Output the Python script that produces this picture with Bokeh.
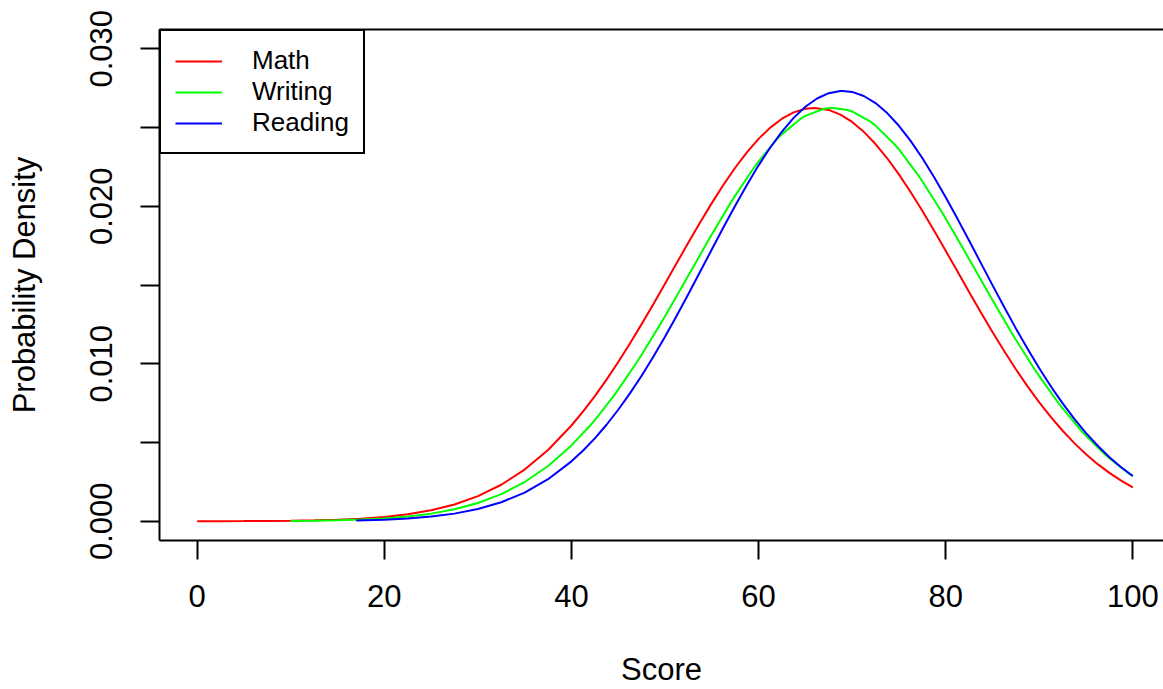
from bokeh.plotting import figure
from bokeh.models import (Range1d, FixedTicker, LinearAxis, Legend, LegendItem)
from bokeh.embed import file_html
from bokeh.resources import INLINE

# ---- data ----
x_math = [0, 2.5, 5, 7.5, 10, 12.5, 15, 17.5, 20, 22.5, 25, 27.5, 30, 32.5, 35, 37.5,
          40, 41.25, 42.5, 43.75, 45, 46.25, 47.5, 48.75, 50, 51.25, 52.5, 53.75, 55,
          56.25, 57.5, 58.75, 60, 61.25, 62.5, 63.75, 65, 66, 67.5, 68.75, 70, 71.25,
          72.5, 73.75, 75, 76.25, 77.5, 78.75, 80, 81.25, 82.5, 83.75, 85, 86.25, 87.5,
          88.75, 90, 91.25, 92.5, 93.75, 95, 96.25, 97.5, 98.75, 100]
y_math = [0.000002, 0.000004, 0.000008, 0.000016, 0.000030, 0.000054, 0.000094, 0.000161,
          0.000269, 0.000437, 0.000690, 0.001062, 0.001589, 0.002313, 0.003278, 0.004525,
          0.006077, 0.006972, 0.007945, 0.008991, 0.010108, 0.011284, 0.012515, 0.013785,
          0.015084, 0.016391, 0.017693, 0.018969, 0.020200, 0.021366, 0.022447, 0.023425,
          0.024281, 0.024996, 0.025560, 0.025961, 0.026190, 0.026247, 0.026119, 0.025821,
          0.025355, 0.024727, 0.023953, 0.023048, 0.022027, 0.020909, 0.019714, 0.018463,
          0.017173, 0.015867, 0.014562, 0.013273, 0.012016, 0.010806, 0.009651, 0.008563,
          0.007546, 0.006605, 0.005743, 0.004958, 0.004252, 0.003623, 0.003066, 0.002576,
          0.002151]

x_writing = [10, 12.5, 15, 17.5, 20, 22.5, 25, 27.5, 30, 32.5, 35, 37.5, 40, 42, 42.5,
             44.5, 45, 47, 47.5, 49.5, 50, 52, 52.5, 54.5, 55, 57, 57.5, 59.5, 60, 62,
             62.5, 64.5, 65, 67, 67.5, 68, 69.5, 70, 72, 72.5, 74.5, 75, 77, 77.5, 79.5,
             80, 82, 82.5, 84.5, 85, 87, 87.5, 89.5, 90, 92, 92.5, 94.5, 95, 97, 97.5,
             99.5, 100]
y_writing = [0.000018, 0.000033, 0.000060, 0.000105, 0.000179, 0.000297, 0.000480, 0.000754,
             0.001153, 0.001717, 0.002487, 0.003506, 0.004811, 0.006077, 0.006425, 0.007945,
             0.008354, 0.010108, 0.010570, 0.012515, 0.013019, 0.015084, 0.015606, 0.017693,
             0.018208, 0.020200, 0.020675, 0.022447, 0.022853, 0.024281, 0.024583, 0.025560,
             0.025741, 0.026190, 0.026233, 0.026247, 0.026119, 0.026021, 0.025355, 0.025121,
             0.023953, 0.023607, 0.022027, 0.021591, 0.019714, 0.019221, 0.017173, 0.016654,
             0.014562, 0.014042, 0.012016, 0.011528, 0.009651, 0.009210, 0.007546, 0.007160,
             0.005743, 0.005420, 0.004252, 0.003992, 0.003066, 0.002861]

x_reading = [17, 20, 22.5, 25, 27.5, 30, 32.5, 35, 37.5, 40, 41.25, 42.5, 43.75, 45, 46.25,
             47.5, 48.75, 50, 51.25, 52.5, 53.75, 55, 56.25, 57.5, 58.75, 60, 61.25, 62.5,
             63.75, 65, 66.25, 67.5, 68.75, 69, 70, 71.25, 72.5, 73.75, 75, 76.25, 77.5,
             78.75, 80, 81.25, 82.5, 83.75, 85, 86.25, 87.5, 88.75, 90, 91.25, 92.5, 93.75,
             95, 96.25, 97.5, 98.75, 100]
y_reading = [0.000048, 0.000098, 0.000171, 0.000291, 0.000481, 0.000771, 0.001201, 0.001815,
             0.002666, 0.003801, 0.004488, 0.005263, 0.006125, 0.007077, 0.008116, 0.009239,
             0.010443, 0.011717, 0.013050, 0.014428, 0.015836, 0.017253, 0.018662, 0.020038,
             0.021357, 0.022598, 0.023734, 0.024745, 0.025614, 0.026320, 0.026845, 0.027181,
             0.027321, 0.027325, 0.027262, 0.027002, 0.026552, 0.025916, 0.025112, 0.024155,
             0.023065, 0.021864, 0.020573, 0.019217, 0.017822, 0.016403, 0.014991, 0.013597,
             0.012245, 0.010945, 0.009711, 0.008555, 0.007482, 0.006494, 0.005596, 0.004788,
             0.004066, 0.003427, 0.002869]

series_names = ["Math", "Writing", "Reading"]
series_colors = ["#FF0000", "#00FF00", "#0000FF"]

x_ticks = [0, 20, 40, 60, 80, 100]
y_ticks = [0.000, 0.005, 0.010, 0.015, 0.020, 0.025, 0.030]
y_tick_labels = ["0.000", "", "0.010", "", "0.020", "", "0.030"]
x_title = "Score"
y_title = "Probability Density"

FONT = "Liberation Sans"

p = figure(width=1163, height=689, output_backend="svg", toolbar_location=None,
           x_range=Range1d(-4.03, 103.28), y_range=Range1d(-0.001226, 0.031226),
           min_border_left=159, min_border_right=0, min_border_top=29,
           min_border_bottom=149)
p.outline_line_color = None
p.grid.visible = False
p.background_fill_color = "white"
p.border_fill_color = "white"

# axes
xa = p.xaxis[0]
xa.ticker = FixedTicker(ticks=x_ticks)
ya = p.yaxis[0]
ya.ticker = FixedTicker(ticks=y_ticks)
ya.major_label_overrides = {t: l for t, l in zip(y_ticks, y_tick_labels)}
ya.major_label_orientation = "parallel"
for ax in (xa, ya):
    ax.axis_line_width = 2
    ax.axis_line_color = "black"
    ax.major_tick_line_width = 2
    ax.major_tick_line_color = "black"
    ax.major_tick_in = 0
    ax.major_tick_out = 19
    ax.minor_tick_line_color = None
    ax.major_label_text_font = FONT
    ax.major_label_text_font_size = "31px"
    ax.major_label_text_color = "black"
    ax.axis_label_text_font = FONT
    ax.axis_label_text_font_size = "31px"
    ax.axis_label_text_font_style = "normal"
    ax.axis_label_text_color = "black"
xa.axis_label = x_title
ya.axis_label = y_title
xa.major_label_standoff = 25
xa.axis_label_standoff = 42
ya.major_label_standoff = 28
ya.axis_label_standoff = 46

top_axis = LinearAxis(ticker=FixedTicker(ticks=[]), axis_line_width=2,
                      axis_line_color="black", major_tick_line_color=None,
                      minor_tick_line_color=None, major_label_text_font_size="0px")
p.add_layout(top_axis, "above")

# curves
renderers = []
for xs, ys, c in [(x_math, y_math, series_colors[0]),
                  (x_writing, y_writing, series_colors[1]),
                  (x_reading, y_reading, series_colors[2])]:
    r = p.line(xs, ys, line_color=c, line_width=2)
    renderers.append(r)

legend = Legend(items=[LegendItem(label=n, renderers=[r]) for n, r in zip(series_names, renderers)],
                location="top_left", margin=0, padding=14, spacing=0,
                glyph_width=47, glyph_height=26, label_height=26, label_standoff=30,
                label_text_font=FONT, label_text_font_size="26px",
                label_text_color="black", label_text_baseline="middle",
                border_line_color="black", border_line_width=2, border_line_alpha=1.0,
                background_fill_color="white", background_fill_alpha=1.0)
p.add_layout(legend, "center")

open("out.html", "w").write(file_html(p, INLINE))
